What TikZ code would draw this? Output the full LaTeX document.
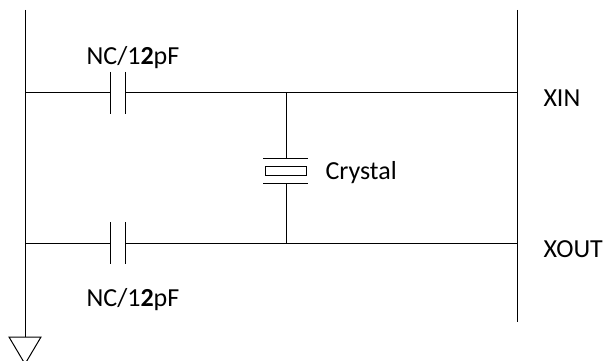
\documentclass[tikz,border=0pt]{standalone}
\usepackage{fontspec}
\setmainfont{Carlito}
\begin{document}
\begin{tikzpicture}[x=1pt,y=-1pt,line width=1pt,
    lbl/.style={font=\fontsize{26}{30}\selectfont,inner sep=0pt}]
    \useasboundingbox (0,0) rectangle (603,361);

    % ground rail and pin rail
    \coordinate (gtop) at (25,10);
    \coordinate (gnd) at (25,337);
    \coordinate (ptop) at (517,10);
    \coordinate (pbot) at (517,322);
    \draw (gtop) -- (gnd);
    \draw (ptop) -- (pbot);
    \draw (gnd) ++(-16,0) -- ++(32,0) -- ++(-16,27) -- cycle;

    % load capacitors
    \foreach \y/\ly/\n in {93/58/in, 243/300/out} {
            \coordinate (g\n) at (25,\y);
            \coordinate (ca\n) at (110,\y);
            \coordinate (cb\n) at (125,\y);
            \coordinate (p\n) at (517,\y);
            \draw (g\n) -- (ca\n);
            \draw (cb\n) -- (p\n);
            \draw (110,\y-21) -- (110,\y+21);
            \draw (125,\y-21) -- (125,\y+21);
            \node[lbl] (cap\n) at (133,\ly) {NC/1\textbf{2}pF};
        }

    % crystal
    \coordinate (xa) at (286,93);
    \coordinate (xb) at (286,158);
    \coordinate (xc) at (286,183);
    \coordinate (xd) at (286,243);
    \draw (xa) -- (xb);
    \draw (xc) -- (xd);
    \draw (263,158) -- (308,158);
    \draw (265,166) rectangle (306,175);
    \draw (263,183) -- (308,183);
    \node[lbl,anchor=west] (xtal) at (325,173) {Crystal};

    % pin names
    \node[lbl,anchor=west] (xin) at (543,98) {XIN};
    \node[lbl,anchor=west] (xout) at (543,249) {XOUT};
\end{tikzpicture}
\end{document}
